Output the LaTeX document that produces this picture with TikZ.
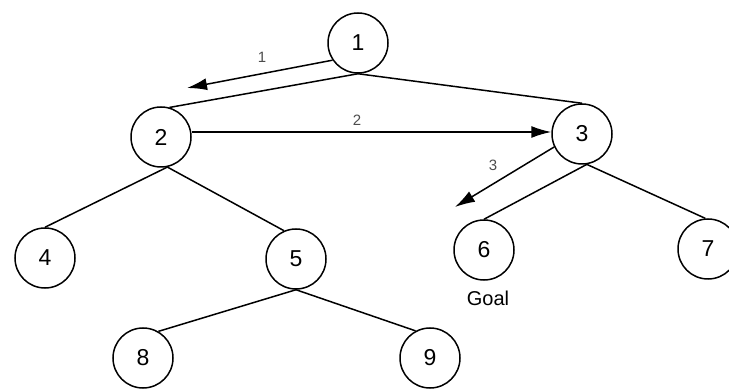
\documentclass[tikz,border=0pt]{standalone}
\usepackage{fontspec}
\setmainfont{Liberation Sans}
\usetikzlibrary{arrows.meta}
\begin{document}
\begin{tikzpicture}[x=1pt,y=-1pt,
  tnode/.style={circle,draw,line width=1.5pt,minimum size=60pt,inner sep=0pt,font=\fontsize{23}{23}\selectfont},
  edge/.style={line width=1.5pt},
  visit/.style={line width=1.5pt,-{Latex[length=20pt,width=12pt]}},
  lbl/.style={font=\fontsize{15}{15}\selectfont,text=black!70}]
\useasboundingbox (0,0) rectangle (729,390);
\node[tnode] (n1) at (358,43) {1};
\node[tnode] (n2) at (161,137) {2};
\node[tnode] (n3) at (582,134) {3};
\node[tnode] (n4) at (45,258) {4};
\node[tnode] (n5) at (296,259) {5};
\node[tnode] (n6) at (484,250) {6};
\node[tnode] (n7) at (708,249) {7};
\node[tnode] (n8) at (143,358) {8};
\node[tnode] (n9) at (430,358) {9};
\draw[edge] (n1.south) -- (n2.74);
\draw[edge] (n1.south) -- (n3.north);
\draw[edge] (n2.-78) -- (n4.north);
\draw[edge] (n2.-78) -- (n5.113);
\draw[edge] (n3.-81) -- (n6.north);
\draw[edge] (n3.-81) -- (n7.95);
\draw[edge] (n5.south) -- (n8.60);
\draw[edge] (n5.south) -- (n9.118);
\coordinate (a1) at (187,88);
\coordinate (a3) at (455,207);
\draw[visit] (n1.214) -- (a1);
\draw[visit] (n2.east |- 0,132) -- (n3.west |- 0,132);
\draw[visit] (n3.205) -- (a3);
\node[lbl] (l1) at (262,57) {1};
\node[lbl] (l2) at (357,120) {2};
\node[lbl] (l3) at (493,165) {3};
\node[font=\fontsize{20}{20}\selectfont] (goal) at (488,298) {Goal};
\end{tikzpicture}
\end{document}
